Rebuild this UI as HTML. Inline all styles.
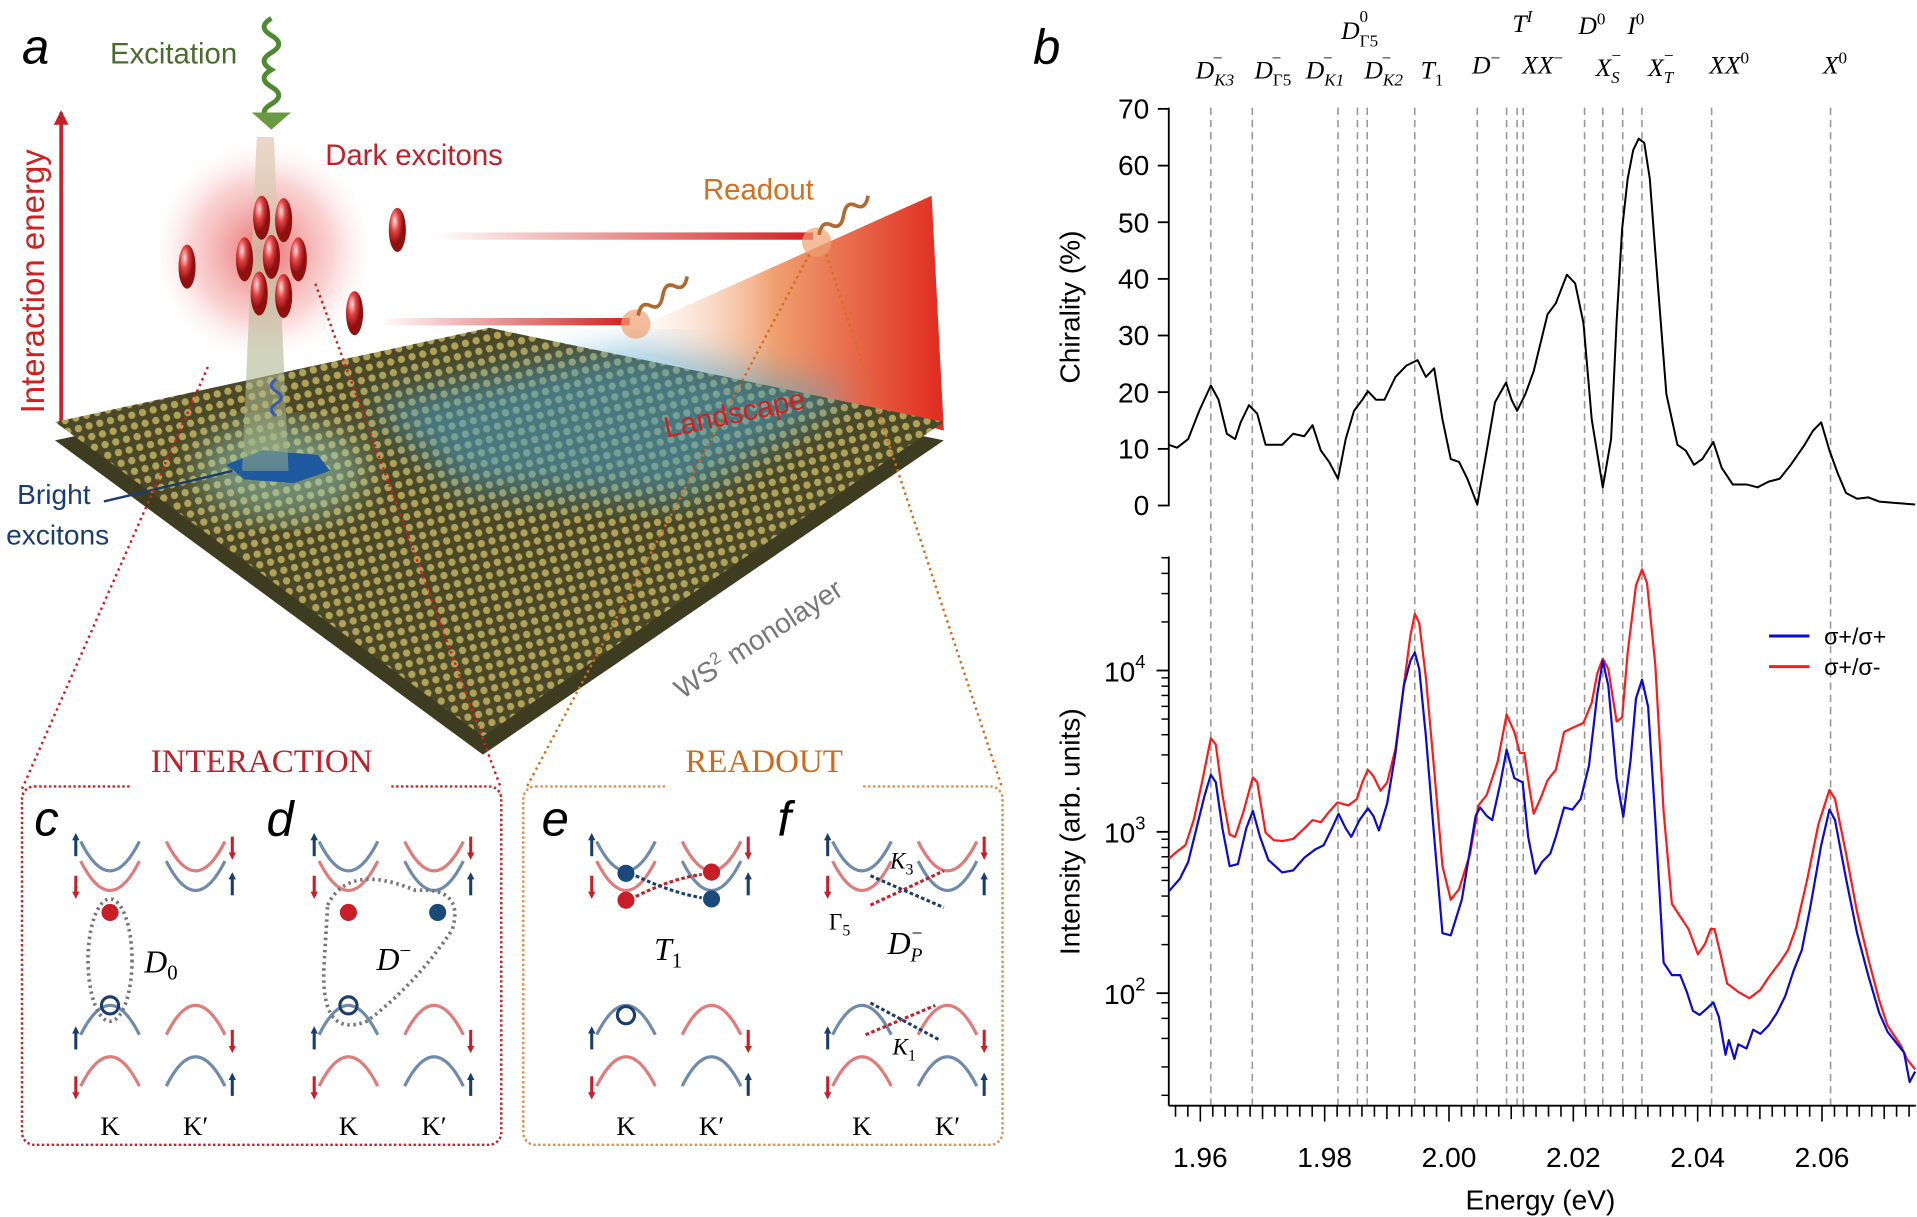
<!DOCTYPE html>
<html><head><meta charset="utf-8"><style>
html,body{margin:0;padding:0;background:#fff;}
svg{display:block;}
.s{font-family:"Liberation Sans",sans-serif;}
.m{font-family:"Liberation Serif",serif;font-style:italic;}
</style></head><body>
<svg width="1917" height="1217" viewBox="0 0 1568 995" preserveAspectRatio="none" xmlns="http://www.w3.org/2000/svg">
<defs>
<marker id="aB" markerWidth="6" markerHeight="6" refX="3" refY="3" orient="auto" markerUnits="userSpaceOnUse" viewBox="0 0 6 6"><path d="M0,0 L6,3 L0,6z" fill="#1a3c6e"/></marker>
<marker id="aR" markerWidth="6" markerHeight="6" refX="3" refY="3" orient="auto" markerUnits="userSpaceOnUse" viewBox="0 0 6 6"><path d="M0,0 L6,3 L0,6z" fill="#c81e28"/></marker>
<marker id="aR2" markerWidth="12" markerHeight="12" refX="10" refY="6" orient="auto" markerUnits="userSpaceOnUse"><path d="M0,0 L12,6 L0,12z" fill="#c81e28"/></marker>
<pattern id="lat" width="9" height="9" patternUnits="userSpaceOnUse" patternTransform="rotate(-14)"><rect width="9" height="9" fill="#4a4826"/><circle cx="4.5" cy="4.5" r="3" fill="#b0a258"/></pattern>
<radialGradient id="glow"><stop offset="0" stop-color="#e03a3a" stop-opacity="0.75"/><stop offset="0.6" stop-color="#f08080" stop-opacity="0.35"/><stop offset="1" stop-color="#fff" stop-opacity="0"/></radialGradient>
<radialGradient id="ell" cx="0.35" cy="0.3"><stop offset="0" stop-color="#ffe0e0"/><stop offset="0.5" stop-color="#e04040"/><stop offset="1" stop-color="#901010"/></radialGradient>
<linearGradient id="wall" x1="0" x2="1"><stop offset="0" stop-color="#fff" stop-opacity="0"/><stop offset="0.5" stop-color="#f0a070"/><stop offset="1" stop-color="#e02a20"/></linearGradient>
<linearGradient id="beam" x1="0" y1="0" x2="0" y2="1"><stop offset="0" stop-color="#e8d0c0"/><stop offset="1" stop-color="#9ab080" stop-opacity="0.6"/></linearGradient>
<linearGradient id="arr1" x1="0" x2="1"><stop offset="0" stop-color="#fff"/><stop offset="1" stop-color="#d02020"/></linearGradient>
<filter id="bl"><feGaussianBlur stdDeviation="14"/></filter>
<path id="cu" d="M-24,-24 Q0,24 24,-24" fill="none" stroke-width="2.6"/>
<path id="cd" d="M-24,24 Q0,-24 24,24" fill="none" stroke-width="2.6"/>
</defs>

<text x="18" y="52" class="s" font-size="40" font-style="italic">a</text>
<line x1="50" y1="345" x2="50" y2="92" stroke="#d02020" stroke-width="3" marker-end="url(#aR2)"/>
<text class="s" font-size="27" fill="#d02020" transform="translate(36,338) rotate(-90)">Interaction energy</text>

<polygon points="495,280 762,160 772,352 560,300" fill="url(#wall)"/>
<polygon points="45,360 400,284 772,360 395,617" fill="#3e3c20"/>
<polygon points="45,345 400,268 772,345 395,602" fill="url(#lat)"/>
<polygon points="300,330 520,282 700,320 560,410 380,400" fill="#4aa0c8" opacity="0.55" filter="url(#bl)"/>
<ellipse cx="230" cy="385" rx="70" ry="40" fill="#9ad0c0" opacity="0.5" filter="url(#bl)"/>
<polygon points="185,380 215,368 260,372 270,385 240,395 200,392" fill="#1f5aa0"/>
<text class="s" font-size="24" fill="#d02020" transform="translate(545,358) rotate(-12)">Landscape</text>
<text class="s" font-size="23" fill="#777" transform="translate(558,572) rotate(-33)">WS<tspan font-size="14" dy="-9">2</tspan><tspan dy="9"> monolayer</tspan></text>
<text x="14" y="412" class="s" font-size="23" fill="#1a3c6e">Bright</text>
<text x="5" y="445" class="s" font-size="23" fill="#1a3c6e">excitons</text>
<line x1="85" y1="410" x2="190" y2="385" stroke="#1a3c6e" stroke-width="2"/>

<circle cx="215" cy="205" r="95" fill="url(#glow)"/>
<polygon points="210,112 224,112 236,385 198,385" fill="url(#beam)" opacity="0.85"/>
<path d="M222,15 q-12,7 0,14 q12,7 0,14 q-12,7 0,14 q-12,7 0,14 q12,7 0,14 q-12,7 0,14" fill="none" stroke="#4e8a30" stroke-width="4"/>
<polygon points="206,92 238,92 222,106" fill="#6a9a40"/>
<text x="90" y="52" class="s" font-size="24" fill="#4a6a30">Excitation</text>
<text x="266" y="135" class="s" font-size="24" fill="#c0202a">Dark excitons</text>
<text x="575" y="163" class="s" font-size="24" fill="#d07020">Readout</text>
<g fill="url(#ell)">
<ellipse cx="214" cy="178" rx="7" ry="18"/><ellipse cx="232" cy="180" rx="7" ry="18"/>
<ellipse cx="200" cy="212" rx="7" ry="18"/><ellipse cx="222" cy="210" rx="7" ry="18"/><ellipse cx="244" cy="212" rx="7" ry="18"/>
<ellipse cx="212" cy="240" rx="7" ry="18"/><ellipse cx="232" cy="242" rx="7" ry="18"/>
<ellipse cx="153" cy="218" rx="7" ry="18"/><ellipse cx="325" cy="188" rx="7" ry="18"/><ellipse cx="290" cy="256" rx="7" ry="18"/>
</g>
<rect x="355" y="190" width="310" height="6" fill="url(#arr1)"/>
<rect x="310" y="260" width="205" height="6" fill="url(#arr1)"/>
<circle cx="668" cy="198" r="12" fill="#f0a070" opacity="0.7"/>
<circle cx="520" cy="265" r="12" fill="#f0a070" opacity="0.7"/>
<path d="M670,192 q2,-12 10,-8 q8,4 10,-8 q2,-12 10,-8 q8,4 10,-8" fill="none" stroke="#b06a30" stroke-width="3"/>
<path d="M522,258 q2,-12 10,-8 q8,4 10,-8 q2,-12 10,-8 q8,4 10,-8" fill="none" stroke="#b06a30" stroke-width="3"/>
<path d="M226,340 q-8,-5 0,-10 q8,-5 0,-10 q-8,-5 0,-10" fill="none" stroke="#3a5ab0" stroke-width="2.5"/>

<g stroke-dasharray="2,3" stroke-width="2" fill="none">
<line x1="258" y1="232" x2="410" y2="645" stroke="#d02020"/>
<line x1="170" y1="300" x2="18" y2="645" stroke="#d02020"/>
<line x1="662" y1="208" x2="430" y2="645" stroke="#d07020"/>
<line x1="676" y1="208" x2="820" y2="645" stroke="#d07020"/>
</g>

<rect x="18" y="643" width="392" height="293" rx="10" fill="#fff" stroke="#d02020" stroke-width="2" stroke-dasharray="2,2"/>
<rect x="428" y="643" width="392" height="293" rx="10" fill="#fff" stroke="#e09050" stroke-width="2" stroke-dasharray="2,2"/>
<rect x="108" y="628" width="212" height="20" fill="#fff"/>
<rect x="545" y="628" width="160" height="20" fill="#fff"/>
<text x="214" y="631" text-anchor="middle" font-family="Liberation Serif,serif" font-size="27" fill="#c0202a">INTERACTION</text>
<text x="625" y="631" text-anchor="middle" font-family="Liberation Serif,serif" font-size="27" fill="#d06a1a">READOUT</text>
<g class="s" font-size="40" font-style="italic">
<text x="28" y="683">c</text><text x="218" y="683">d</text><text x="443" y="683">e</text><text x="636" y="683">f</text>
</g>

<g id="pan">
<use href="#cu" x="90" y="712" stroke="#6f8aaa"/><use href="#cu" x="90" y="728" stroke="#e07b7b"/>
<use href="#cd" x="90" y="822" stroke="#6f8aaa"/><use href="#cd" x="90" y="864" stroke="#e07b7b"/>
<use href="#cu" x="160" y="712" stroke="#e07b7b"/><use href="#cu" x="160" y="728" stroke="#6f8aaa"/>
<use href="#cd" x="160" y="822" stroke="#e07b7b"/><use href="#cd" x="160" y="864" stroke="#6f8aaa"/>
<g stroke-width="2.5">
<line x1="62" y1="700" x2="62" y2="684" stroke="#1a3c6e" marker-end="url(#aB)"/>
<line x1="62" y1="716" x2="62" y2="732" stroke="#c81e28" marker-end="url(#aR)"/>
<line x1="62" y1="858" x2="62" y2="842" stroke="#1a3c6e" marker-end="url(#aB)"/>
<line x1="62" y1="880" x2="62" y2="896" stroke="#c81e28" marker-end="url(#aR)"/>
<line x1="190" y1="684" x2="190" y2="700" stroke="#c81e28" marker-end="url(#aR)"/>
<line x1="190" y1="732" x2="190" y2="716" stroke="#1a3c6e" marker-end="url(#aB)"/>
<line x1="190" y1="842" x2="190" y2="858" stroke="#c81e28" marker-end="url(#aR)"/>
<line x1="190" y1="896" x2="190" y2="880" stroke="#1a3c6e" marker-end="url(#aB)"/>
</g>
<text x="90" y="928" text-anchor="middle" font-family="Liberation Serif,serif" font-size="22">K</text>
<text x="160" y="928" text-anchor="middle" font-family="Liberation Serif,serif" font-size="22">K′</text>
</g>
<use href="#pan" x="195"/><use href="#pan" x="422"/><use href="#pan" x="615"/>
<circle cx="90" cy="746" r="7" fill="#c81e28"/><circle cx="90" cy="822" r="7" fill="none" stroke="#1a3c6e" stroke-width="2.5"/>
<ellipse cx="90" cy="785" rx="18" ry="50" fill="none" stroke="#777" stroke-width="3" stroke-dasharray="2,3"/>
<text x="118" y="795" class="m" font-size="26">D<tspan font-size="17" dy="6" font-style="normal">0</tspan></text>
<circle cx="285" cy="746" r="7" fill="#c81e28"/><circle cx="358" cy="746" r="7" fill="#1a4a7a"/><circle cx="285" cy="822" r="7" fill="none" stroke="#1a3c6e" stroke-width="2.5"/>
<path d="M268,740 Q285,705 340,728 Q380,725 370,760 Q340,805 300,835 Q262,850 265,790 Z" fill="none" stroke="#777" stroke-width="3" stroke-dasharray="2,3"/>
<text x="308" y="793" class="m" font-size="26">D<tspan font-size="17" dy="-10" font-style="normal">−</tspan></text>
<circle cx="512" cy="714" r="7" fill="#1a4a7a"/><circle cx="582" cy="713" r="7" fill="#c81e28"/>
<circle cx="512" cy="736" r="7" fill="#c81e28"/><circle cx="582" cy="735" r="7" fill="#1a4a7a"/>
<path d="M520,733 Q550,718 574,715" stroke="#c81e28" stroke-width="2.5" stroke-dasharray="3,2" fill="none"/>
<path d="M520,716 Q550,730 574,734" stroke="#1a3c6e" stroke-width="2.5" stroke-dasharray="3,2" fill="none"/>
<circle cx="512" cy="830" r="7" fill="none" stroke="#1a3c6e" stroke-width="2.5"/>
<text x="535" y="785" class="m" font-size="26">T<tspan font-size="17" dy="6" font-style="normal">1</tspan></text>
<g stroke-width="2.5" stroke-dasharray="3,2" fill="none">
<line x1="712" y1="740" x2="772" y2="712" stroke="#c81e28"/>
<line x1="712" y1="716" x2="772" y2="742" stroke="#1a3c6e"/>
<line x1="708" y1="846" x2="765" y2="822" stroke="#c81e28"/>
<line x1="712" y1="820" x2="768" y2="850" stroke="#1a3c6e"/>
</g>
<text x="728" y="710" class="m" font-size="19">K<tspan font-size="13" dy="5" font-style="normal">3</tspan></text>
<text x="678" y="760" font-family="Liberation Serif,serif" font-size="19">Γ<tspan font-size="13" dy="5">5</tspan></text>
<text x="726" y="780" class="m" font-size="26">D<tspan font-size="16" dy="6">P</tspan><tspan font-size="16" dx="-9" dy="-18" font-style="normal">−</tspan></text>
<text x="730" y="862" class="m" font-size="19">K<tspan font-size="13" dy="5" font-style="normal">1</tspan></text>

<text x="845" y="52" class="s" font-size="40" font-style="italic">b</text>
<g class="m" font-size="21">
<text x="978" y="64">D<tspan font-size="14" dy="6">K3</tspan></text><text x="992" y="52" font-size="14" font-style="normal">−</text>
<text x="1026" y="64">D<tspan font-size="14" dy="6" font-style="normal">Γ5</tspan></text><text x="1040" y="52" font-size="14" font-style="normal">−</text>
<text x="1068" y="64">D<tspan font-size="14" dy="6">K1</tspan></text><text x="1082" y="52" font-size="14" font-style="normal">−</text>
<text x="1116" y="64">D<tspan font-size="14" dy="6">K2</tspan></text><text x="1130" y="52" font-size="14" font-style="normal">−</text>
<text x="1097" y="32">D<tspan font-size="14" dy="6" font-style="normal">Γ5</tspan></text><text x="1112" y="18" font-size="14" font-style="normal">0</text>
<text x="1162" y="64">T<tspan font-size="14" dy="6" font-style="normal">1</tspan></text>
<text x="1204" y="60">D<tspan font-size="14" dy="-8" font-style="normal">−</tspan></text>
<text x="1245" y="60">XX<tspan font-size="14" dy="-8" font-style="normal">−</tspan></text>
<text x="1237" y="26">T<tspan font-size="14" dy="-8">I</tspan></text>
<text x="1291" y="28">D<tspan font-size="14" dy="-8" font-style="normal">0</tspan></text>
<text x="1331" y="28">I<tspan font-size="14" dy="-8" font-style="normal">0</tspan></text>
<text x="1305" y="62">X<tspan font-size="14" dy="6">S</tspan></text><text x="1318" y="50" font-size="14" font-style="normal">−</text>
<text x="1348" y="62">X<tspan font-size="14" dy="6">T</tspan></text><text x="1361" y="50" font-size="14" font-style="normal">−</text>
<text x="1398" y="60">XX<tspan font-size="14" dy="-8" font-style="normal">0</tspan></text>
<text x="1491" y="60">X<tspan font-size="14" dy="-8" font-style="normal">0</tspan></text>
</g>
<g stroke="#999" stroke-width="1.3" stroke-dasharray="6,4">
<line x1="990.4" y1="88" x2="990.4" y2="904"/><line x1="1024.3" y1="88" x2="1024.3" y2="904"/>
<line x1="1094.4" y1="88" x2="1094.4" y2="904"/><line x1="1110.3" y1="88" x2="1110.3" y2="904"/>
<line x1="1118.3" y1="88" x2="1118.3" y2="904"/><line x1="1157.2" y1="88" x2="1157.2" y2="904"/>
<line x1="1208.3" y1="88" x2="1208.3" y2="904"/><line x1="1232.3" y1="88" x2="1232.3" y2="904"/>
<line x1="1240.9" y1="88" x2="1240.9" y2="904"/><line x1="1245.9" y1="88" x2="1245.9" y2="904"/>
<line x1="1296.1" y1="88" x2="1296.1" y2="904"/><line x1="1311" y1="88" x2="1311" y2="904"/>
<line x1="1327.3" y1="88" x2="1327.3" y2="904"/><line x1="1343" y1="88" x2="1343" y2="904"/>
<line x1="1400" y1="88" x2="1400" y2="904"/><line x1="1497.3" y1="88" x2="1497.3" y2="904"/>
</g>
<g stroke="#000" stroke-width="1.5">
<line x1="956" y1="88" x2="956" y2="414"/>
<line x1="947" y1="89" x2="956" y2="89"/><line x1="947" y1="135.4" x2="956" y2="135.4"/>
<line x1="947" y1="181.7" x2="956" y2="181.7"/><line x1="947" y1="228" x2="956" y2="228"/>
<line x1="947" y1="274.3" x2="956" y2="274.3"/><line x1="947" y1="320.6" x2="956" y2="320.6"/>
<line x1="947" y1="367" x2="956" y2="367"/><line x1="947" y1="413.3" x2="956" y2="413.3"/>
</g>
<g class="s" font-size="23" text-anchor="end">
<text x="940" y="97">70</text><text x="940" y="143">60</text><text x="940" y="190">50</text><text x="940" y="236">40</text>
<text x="940" y="282">30</text><text x="940" y="329">20</text><text x="940" y="375">10</text><text x="940" y="421">0</text>
</g>
<text class="s" font-size="23" text-anchor="middle" transform="translate(883,251) rotate(-90)">Chirality (%)</text>
<g transform="translate(858.8,0) scale(0.4522,0.2921)">
<polyline fill="none" stroke="#000" stroke-width="2" stroke-linejoin="round" vector-effect="non-scaling-stroke" points="215,1245 230,1253 250,1229 270,1150 291,1079 305,1119 320,1214 335,1229 345,1182 360,1134 375,1158 390,1245 420,1245 440,1214 460,1221 475,1190 490,1261 505,1293 521,1340 535,1229 550,1150 565,1119 575,1095 590,1119 605,1119 625,1055 645,1023 665,1008 680,1055 695,1031 710,1174 725,1285 740,1293 755,1340 773,1412 790,1261 805,1126 825,1071 835,1119 845,1150 860,1103 875,1039 900,880 915,849 935,769 950,793 965,904 980,1174 1000,1364 1015,1229 1025,900 1035,640 1045,500 1055,420 1065,388 1075,400 1085,500 1095,706 1115,1103 1135,1245 1150,1261 1165,1301 1180,1285 1200,1237 1215,1309 1235,1356 1260,1356 1280,1364 1300,1348 1320,1340 1340,1301 1365,1245 1380,1206 1395,1182 1410,1261 1425,1325 1440,1380 1460,1396 1480,1392 1500,1404 1530,1408 1565,1412"/>
</g>
<g stroke="#000" stroke-width="1.5">
<line x1="956" y1="455" x2="956" y2="904"/>
<line x1="956" y1="904" x2="1567" y2="904"/>
<line x1="946" y1="548.2" x2="956" y2="548.2"/><line x1="946" y1="680.1" x2="956" y2="680.1"/><line x1="946" y1="812" x2="956" y2="812"/>
</g>
<g stroke="#000" stroke-width="1.2">
<line x1="950" y1="772.3" x2="956" y2="772.3"/><line x1="950" y1="749" x2="956" y2="749"/><line x1="950" y1="732.6" x2="956" y2="732.6"/><line x1="950" y1="719.8" x2="956" y2="719.8"/><line x1="950" y1="709.3" x2="956" y2="709.3"/><line x1="950" y1="700.5" x2="956" y2="700.5"/><line x1="950" y1="692.9" x2="956" y2="692.9"/><line x1="950" y1="686.1" x2="956" y2="686.1"/>
<line x1="950" y1="640.4" x2="956" y2="640.4"/><line x1="950" y1="617.2" x2="956" y2="617.2"/><line x1="950" y1="600.7" x2="956" y2="600.7"/><line x1="950" y1="587.9" x2="956" y2="587.9"/><line x1="950" y1="577.5" x2="956" y2="577.5"/><line x1="950" y1="568.6" x2="956" y2="568.6"/><line x1="950" y1="561" x2="956" y2="561"/><line x1="950" y1="554.2" x2="956" y2="554.2"/>
<line x1="950" y1="508.5" x2="956" y2="508.5"/><line x1="950" y1="485.3" x2="956" y2="485.3"/><line x1="950" y1="468.8" x2="956" y2="468.8"/><line x1="950" y1="456" x2="956" y2="456"/>
<line x1="950" y1="872.3" x2="956" y2="872.3"/><line x1="950" y1="849" x2="956" y2="849"/><line x1="950" y1="832.6" x2="956" y2="832.6"/><line x1="950" y1="819.8" x2="956" y2="819.8"/><line x1="950" y1="895.5" x2="956" y2="895.5"/>
</g>
<g class="s" font-size="23">
<text x="903" y="557">10<tspan font-size="15" dy="-11">4</tspan></text>
<text x="903" y="689">10<tspan font-size="15" dy="-11">3</tspan></text>
<text x="903" y="821">10<tspan font-size="15" dy="-11">2</tspan></text>
</g>
<text class="s" font-size="23" text-anchor="middle" transform="translate(883,680) rotate(-90)">Intensity (arb. units)</text>
<g stroke="#000" stroke-width="1.3">
<line x1="961.5" y1="904" x2="961.5" y2="913"/><line x1="971.6" y1="904" x2="971.6" y2="913"/><line x1="981.8" y1="904" x2="981.8" y2="917"/><line x1="992" y1="904" x2="992" y2="913"/><line x1="1002.1" y1="904" x2="1002.1" y2="913"/><line x1="1012.3" y1="904" x2="1012.3" y2="913"/><line x1="1022.5" y1="904" x2="1022.5" y2="913"/><line x1="1032.7" y1="904" x2="1032.7" y2="915"/><line x1="1042.8" y1="904" x2="1042.8" y2="913"/><line x1="1053" y1="904" x2="1053" y2="913"/><line x1="1063.2" y1="904" x2="1063.2" y2="913"/><line x1="1073.3" y1="904" x2="1073.3" y2="913"/><line x1="1083.5" y1="904" x2="1083.5" y2="917"/><line x1="1093.7" y1="904" x2="1093.7" y2="913"/><line x1="1103.9" y1="904" x2="1103.9" y2="913"/><line x1="1114" y1="904" x2="1114" y2="913"/><line x1="1124.2" y1="904" x2="1124.2" y2="913"/><line x1="1134.4" y1="904" x2="1134.4" y2="915"/><line x1="1144.5" y1="904" x2="1144.5" y2="913"/><line x1="1154.7" y1="904" x2="1154.7" y2="913"/><line x1="1164.9" y1="904" x2="1164.9" y2="913"/><line x1="1175" y1="904" x2="1175" y2="913"/><line x1="1185.2" y1="904" x2="1185.2" y2="917"/><line x1="1195.4" y1="904" x2="1195.4" y2="913"/><line x1="1205.6" y1="904" x2="1205.6" y2="913"/><line x1="1215.7" y1="904" x2="1215.7" y2="913"/><line x1="1225.9" y1="904" x2="1225.9" y2="913"/><line x1="1236.1" y1="904" x2="1236.1" y2="915"/><line x1="1246.2" y1="904" x2="1246.2" y2="913"/><line x1="1256.4" y1="904" x2="1256.4" y2="913"/><line x1="1266.6" y1="904" x2="1266.6" y2="913"/><line x1="1276.8" y1="904" x2="1276.8" y2="913"/><line x1="1286.9" y1="904" x2="1286.9" y2="917"/><line x1="1297.1" y1="904" x2="1297.1" y2="913"/><line x1="1307.3" y1="904" x2="1307.3" y2="913"/><line x1="1317.4" y1="904" x2="1317.4" y2="913"/><line x1="1327.6" y1="904" x2="1327.6" y2="913"/><line x1="1337.8" y1="904" x2="1337.8" y2="915"/><line x1="1347.9" y1="904" x2="1347.9" y2="913"/><line x1="1358.1" y1="904" x2="1358.1" y2="913"/><line x1="1368.3" y1="904" x2="1368.3" y2="913"/><line x1="1378.5" y1="904" x2="1378.5" y2="913"/><line x1="1388.6" y1="904" x2="1388.6" y2="917"/><line x1="1398.8" y1="904" x2="1398.8" y2="913"/><line x1="1409" y1="904" x2="1409" y2="913"/><line x1="1419.1" y1="904" x2="1419.1" y2="913"/><line x1="1429.3" y1="904" x2="1429.3" y2="913"/><line x1="1439.5" y1="904" x2="1439.5" y2="915"/><line x1="1449.6" y1="904" x2="1449.6" y2="913"/><line x1="1459.8" y1="904" x2="1459.8" y2="913"/><line x1="1470" y1="904" x2="1470" y2="913"/><line x1="1480.2" y1="904" x2="1480.2" y2="913"/><line x1="1490.3" y1="904" x2="1490.3" y2="917"/><line x1="1500.5" y1="904" x2="1500.5" y2="913"/><line x1="1510.7" y1="904" x2="1510.7" y2="913"/><line x1="1520.8" y1="904" x2="1520.8" y2="913"/><line x1="1531" y1="904" x2="1531" y2="913"/><line x1="1541.2" y1="904" x2="1541.2" y2="915"/><line x1="1551.3" y1="904" x2="1551.3" y2="913"/><line x1="1561.5" y1="904" x2="1561.5" y2="913"/>
</g>
<g class="s" font-size="23" text-anchor="middle">
<text x="981.8" y="954">1.96</text><text x="1083.5" y="954">1.98</text><text x="1185.2" y="954">2.00</text>
<text x="1286.9" y="954">2.02</text><text x="1388.6" y="954">2.04</text><text x="1490.3" y="954">2.06</text>
<text x="1260" y="989">Energy (eV)</text>
</g>
<g transform="translate(858.8,458) scale(0.4522,0.3427)">
<polyline fill="none" stroke="#ff1a1a" stroke-width="2.2" stroke-linejoin="round" vector-effect="non-scaling-stroke" points="215,712 230,695 245,680 260,620 275,530 291,425 300,440 312,560 325,655 335,660 350,600 367,518 375,530 390,650 405,668 420,670 440,665 460,640 475,620 490,625 505,600 520,578 540,585 555,570 565,530 575,500 585,515 598,550 610,530 625,450 640,300 652,180 660,128 668,150 680,280 695,500 710,730 725,810 740,785 760,700 775,585 790,560 810,480 826,368 840,410 850,460 858,460 868,550 875,605 890,560 900,525 915,500 930,410 945,400 965,388 980,340 990,270 1000,235 1010,260 1025,385 1035,375 1045,220 1060,60 1071,22 1080,55 1095,250 1110,600 1125,820 1140,850 1155,880 1172,940 1185,915 1195,880 1202,880 1212,935 1225,1010 1245,1030 1265,1045 1285,1025 1300,995 1320,960 1335,930 1350,875 1370,760 1390,630 1410,548 1420,570 1440,700 1460,840 1480,950 1500,1050 1515,1110 1525,1130 1540,1160 1550,1190 1565,1215"/>
<polyline fill="none" stroke="#0a0ad0" stroke-width="2.2" stroke-linejoin="round" vector-effect="non-scaling-stroke" points="215,790 235,760 250,720 265,640 280,560 291,512 300,530 312,640 325,730 340,725 355,640 367,598 380,660 395,715 420,745 440,740 460,710 480,690 495,680 510,640 522,605 535,640 545,660 560,620 575,592 585,610 595,645 610,580 625,460 640,300 652,240 660,220 668,260 680,420 695,660 710,890 725,895 745,810 770,610 778,590 790,610 800,620 815,530 826,452 840,520 855,530 865,660 878,748 890,720 905,700 915,660 930,590 945,595 960,570 975,490 990,320 1000,240 1010,300 1025,520 1037,612 1050,480 1060,330 1071,285 1082,350 1095,620 1110,960 1125,990 1140,990 1152,1030 1163,1075 1175,1085 1188,1070 1200,1055 1210,1090 1222,1180 1228,1145 1238,1190 1245,1155 1260,1165 1272,1120 1285,1130 1300,1110 1315,1080 1330,1040 1345,980 1360,930 1375,830 1395,680 1410,595 1420,620 1440,760 1460,890 1480,990 1500,1080 1515,1125 1530,1150 1545,1175 1555,1245 1565,1220"/>
</g>
<line x1="1447" y1="520" x2="1480" y2="520" stroke="#0a0ad0" stroke-width="2.5"/>
<line x1="1447" y1="545" x2="1480" y2="545" stroke="#ff1a1a" stroke-width="2.5"/>
<text x="1492" y="527" class="s" font-size="19">σ+/σ+</text>
<text x="1492" y="552" class="s" font-size="19">σ+/σ-</text>
</svg>
</body></html>
